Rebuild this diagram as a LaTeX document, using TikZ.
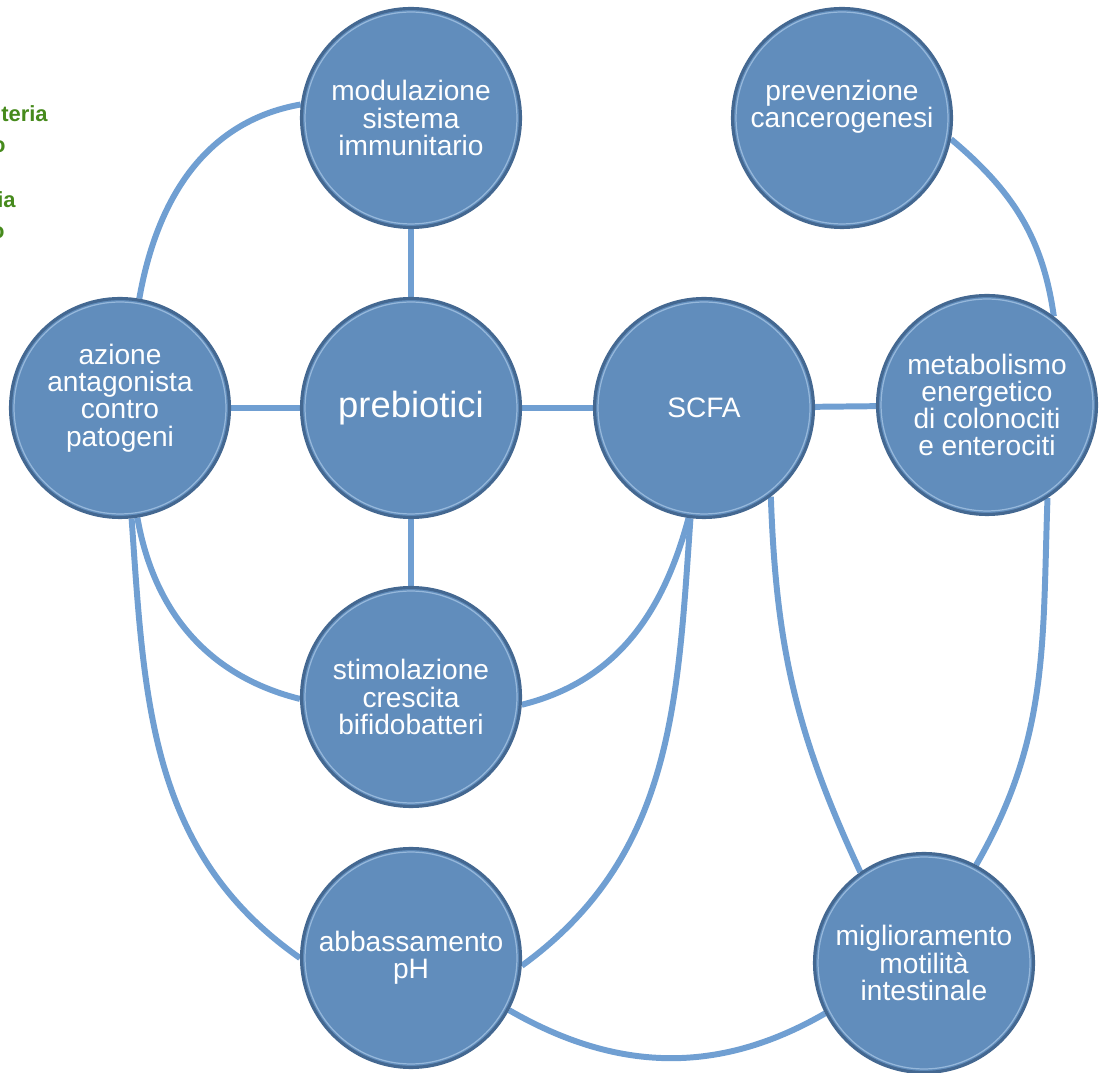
\documentclass[tikz,border=0pt]{standalone}
\usepackage{fontspec}
\setmainfont{Liberation Sans}
\usepackage{tikz}
\usetikzlibrary{positioning,backgrounds}
\definecolor{bubblefill}{RGB}{97,141,188}
\definecolor{bubbleedge}{RGB}{68,104,145}
\definecolor{bubbleglow}{RGB}{150,184,219}
\definecolor{linkblue}{RGB}{112,159,210}
\definecolor{sidegreen}{RGB}{70,138,28}
\tikzset{
  bubble/.style   = {circle, minimum size=4.38cm, inner sep=0pt, align=center,
                     fill=bubblefill, draw=bubbleedge, line width=1.8pt,
                     text=white, font=\fontsize{16}{15.5}\selectfont,
                     path picture={\draw[bubbleglow, line width=0.7pt]
                       (path picture bounding box.center) circle (2.12cm);}},
  bigtext/.style  = {font=\fontsize{20.7}{20}\selectfont},
  link/.style     = {draw=linkblue, line width=3.4pt},
  sidetxt/.style  = {anchor=base east, text=sidegreen, inner sep=0pt,
                     font=\fontsize{12.5}{12.5}\selectfont\bfseries}
}

\begin{document}
\begin{tikzpicture}[x=0.02cm, y=0.02cm]
  \useasboundingbox (0,0) rectangle (1102,1072);
  % Cut-off text at the left border
  \begin{scope}
    \clip (0,0) rectangle (1102,1072);
    \node[sidetxt] (g1) at (48,950) {teria};
    \node[sidetxt] (g2) at (6,919)  {o};
    \node[sidetxt] (g3) at (16,864) {ia};
    \node[sidetxt] (g4) at (5,833)  {o};
  \end{scope}
  % Top row
  \node[bubble] (modul) at (411,954) {modulazione\\sistema\\immunitario};
  \node[bubble, text depth=15.8pt] (prev) at (842,954) {prevenzione\\cancerogenesi};
  % Middle row
  \node[bubble, text depth=14.8pt] (azione) at (120,664) {azione\\antagonista\\contro\\patogeni};
  \node[bubble, bigtext] (prebio) at (411,664) {prebiotici};
  \node[bubble] (scfa) at (704,664) {SCFA};
  \node[bubble] (metab) at (987,667) {metabolismo\\energetico\\di colonociti\\e enterociti};
  % Lower rows
  \node[bubble] (stim) at (411,375) {stimolazione\\crescita\\bifidobatteri};
  \node[bubble] (abbas) at (411,114) {abbassamento\\pH};
  \node[bubble] (migl) at (924,109) {miglioramento\\motilità\\intestinale};
  % Links
  \begin{pgfonlayer}{background}
    \draw[link] (modul) -- (prebio);
    \draw[link] (azione) -- (prebio);
    \draw[link] (prebio) -- (scfa);
    \draw[link] (scfa) -- (metab);
    \draw[link] (prebio) -- (stim);
    \draw[link] (modul.173) to[out=190,in=80] (azione.80);
    \draw[link] (azione.-81) to[out=280,in=166] (stim.181);
    \draw[link] (stim.-4) to[out=14,in=255] (scfa.262);
    \draw[link] (azione.-84) to[out=274,in=145] (abbas.180);
    \draw[link] (scfa.263) to[out=266,in=36] (abbas.-4);
    \draw[link] (abbas.-28) to[out=-30,in=210] (migl.207);
    \draw[link] (scfa.-53) to[out=272,in=115] (migl.125);
    \draw[link] (prev.-11) to[out=-40,in=98] (metab.53);
    \draw[link] (metab.-57) to[out=268,in=60] (migl.62);
  \end{pgfonlayer}
\end{tikzpicture}
\end{document}
